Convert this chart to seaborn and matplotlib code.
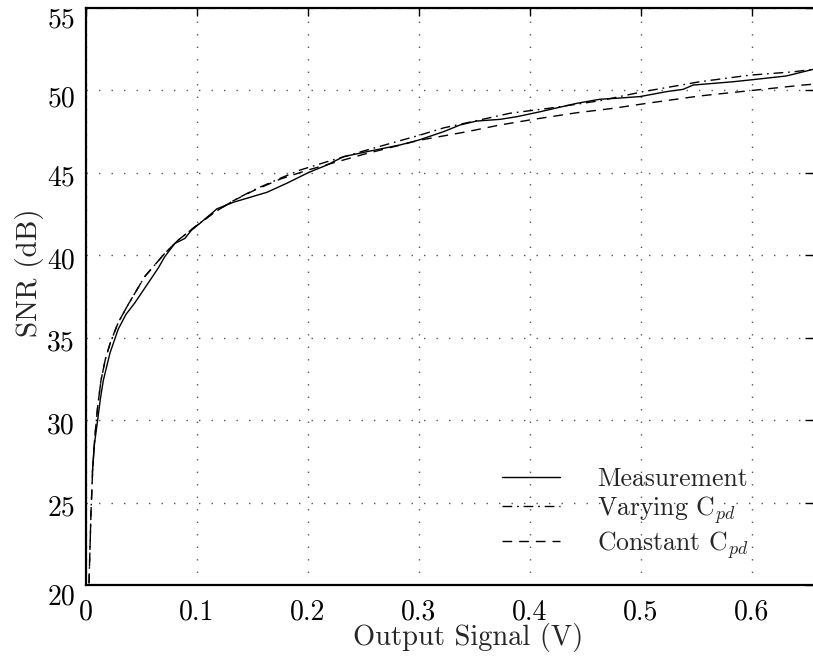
import matplotlib
matplotlib.use("Agg")
import matplotlib.pyplot as plt
import matplotlib.transforms as mtransforms
import seaborn as sns
import pandas as pd
from matplotlib.ticker import FixedLocator, FuncFormatter

# ---------------- data ----------------
meas_x = [0.0057, 0.0075, 0.0105, 0.0130, 0.0156, 0.0216, 0.029, 0.036, 0.044, 0.052,
          0.059, 0.065, 0.071, 0.080, 0.089, 0.095, 0.103, 0.118, 0.133, 0.148,
          0.163, 0.181, 0.199, 0.206, 0.217, 0.232, 0.253, 0.283, 0.300, 0.322,
          0.337, 0.352, 0.373, 0.388, 0.409, 0.442, 0.463, 0.478, 0.499, 0.523,
          0.538, 0.547, 0.583, 0.604, 0.631, 0.655]
meas_y = [26.8, 28.5, 30.0, 31.3, 32.4, 34.06, 35.5, 36.4, 37.1, 37.9,
          38.6, 39.2, 39.9, 40.7, 41.0, 41.5, 41.94, 42.8, 43.2, 43.5,
          43.8, 44.35, 44.95, 45.15, 45.45, 45.96, 46.26, 46.67, 46.97, 47.47,
          47.88, 48.12, 48.22, 48.38, 48.68, 49.19, 49.44, 49.5, 49.6, 49.9,
          50.04, 50.3, 50.5, 50.65, 50.85, 51.25]

vary_x = [0.0027, 0.0045, 0.006, 0.008, 0.0105, 0.0135, 0.0175, 0.022, 0.029, 0.038,
          0.053, 0.071, 0.083, 0.098, 0.116, 0.133, 0.151, 0.175, 0.193, 0.217,
          0.253, 0.301, 0.322, 0.382, 0.418, 0.463, 0.502, 0.553, 0.598, 0.637, 0.655]
vary_y = [20.1, 24.4, 27.0, 29.0, 30.8, 32.4, 33.7, 34.7, 35.9, 37.0,
          38.7, 40.1, 40.9, 41.7, 42.6, 43.3, 43.94, 44.65, 45.15, 45.65,
          46.36, 47.27, 47.7, 48.59, 48.9, 49.35, 49.9, 50.5, 50.9, 51.1, 51.25]

const_x = [0.0027, 0.0045, 0.006, 0.008, 0.0105, 0.0135, 0.0175, 0.022, 0.029, 0.038,
           0.053, 0.071, 0.083, 0.098, 0.116, 0.133, 0.151, 0.175, 0.200, 0.250,
           0.300, 0.343, 0.373, 0.403, 0.442, 0.475, 0.505, 0.553, 0.604, 0.646, 0.655]
const_y = [20.1, 24.4, 27.0, 29.0, 30.8, 32.4, 33.7, 34.7, 35.9, 37.0,
           38.7, 40.1, 40.9, 41.7, 42.6, 43.3, 43.9, 44.6, 45.15, 46.1,
           46.95, 47.47, 47.88, 48.22, 48.62, 48.89, 49.19, 49.64, 50.0, 50.3, 50.35]

labels = ["Measurement", r"Varying C$_{pd}$", r"Constant C$_{pd}$"]
x_ticks = [0, 0.1, 0.2, 0.3, 0.4, 0.5, 0.6]
y_ticks = [20, 25, 30, 35, 40, 45, 50, 55]
x_label = "Output Signal (V)"
y_label = "SNR (dB)"

# ---------------- style ----------------
sns.set_style("white")
plt.rcParams["font.family"] = ["cmr10", "DejaVu Serif"]
plt.rcParams["mathtext.fontset"] = "cm"
plt.rcParams["axes.formatter.use_mathtext"] = True

fig = plt.figure(figsize=(8.13, 6.59), dpi=100)
ax = fig.add_axes([86 / 813, 1 - 585 / 659, 727 / 813, 577.5 / 659])

df_m = pd.DataFrame({"x": meas_x, "y": meas_y})
df_v = pd.DataFrame({"x": vary_x, "y": vary_y})
df_c = pd.DataFrame({"x": const_x, "y": const_y})

sns.lineplot(data=df_m, x="x", y="y", ax=ax, color="black", lw=1.0,
             sort=False, estimator=None, label=labels[0])
sns.lineplot(data=df_v, x="x", y="y", ax=ax, color="black", lw=1.0,
             sort=False, estimator=None, label=labels[1],
             linestyle=(0, (7, 3.5, 1.2, 3.5)))
sns.lineplot(data=df_c, x="x", y="y", ax=ax, color="black", lw=1.0,
             sort=False, estimator=None, label=labels[2],
             linestyle=(0, (7, 5)))

ax.set_xlim(0, 0.655)
ax.set_ylim(20, 55)
ax.xaxis.set_major_locator(FixedLocator(x_ticks))
ax.yaxis.set_major_locator(FixedLocator(y_ticks))
ax.xaxis.set_major_formatter(FuncFormatter(lambda v, p: "%g" % v))
ax.yaxis.set_major_formatter(FuncFormatter(lambda v, p: "%g" % v))

ax.grid(True, color="#555555", linestyle=(0, (1, 8)), linewidth=1.0)
ax.tick_params(direction="in", length=6, width=1, top=True, right=True,
               labelsize=20, colors="black")
ax.tick_params(axis="y", pad=8)
ax.tick_params(axis="x", pad=10)

for s in ["left", "bottom", "top"]:
    ax.spines[s].set_visible(True)
    ax.spines[s].set_color("black")
    ax.spines[s].set_linewidth(1.6)
ax.spines["right"].set_visible(False)

ax.set_xlabel(x_label, fontsize=20.5)
ax.set_ylabel(y_label, fontsize=21)
ax.xaxis.set_label_coords((468 - 86) / 727, (585 - 623) / 577.5)
ax.yaxis.label.set_va("center")
ax.yaxis.set_label_coords((29 - 86) / 727, (585 - 273) / 577.5)

leg = ax.legend(frameon=False, loc="upper left",
                bbox_to_anchor=(502 / 813, 1 - 467 / 659),
                bbox_transform=fig.transFigure,
                fontsize=18.5, borderpad=0, borderaxespad=0, handlelength=2.26,
                handletextpad=1.45, labelspacing=0.12)
for ln in leg.get_lines():
    ln.set_linewidth(1.0)

fig.canvas.draw()
# small downward shift of y tick labels, as in the reference
shift_px = {55: 10, 50: 6, 20: 9}
for tick in ax.yaxis.get_major_ticks():
    v = round(tick.get_loc())
    dy = shift_px.get(v, 3)
    off = mtransforms.ScaledTranslation(0, -dy / 100, fig.dpi_scale_trans)
    tick.label1.set_transform(tick.label1.get_transform() + off)

fig.savefig("out.png", dpi=100)
